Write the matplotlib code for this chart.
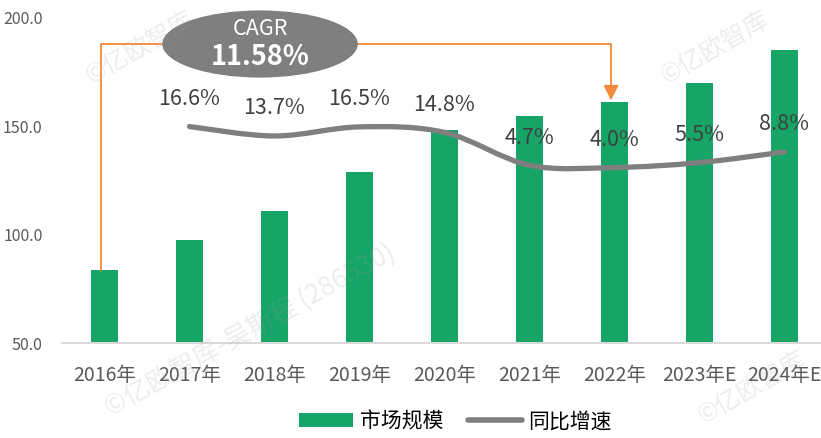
import numpy as np
import matplotlib.pyplot as plt
from matplotlib.path import Path
from matplotlib.patches import PathPatch, Patch, Ellipse
from matplotlib.lines import Line2D

plt.rcParams['font.family'] = ['Noto Sans CJK SC', 'DejaVu Sans']

# data
years = ['2016年', '2017年', '2018年', '2019年', '2020年', '2021年', '2022年', '2023年E', '2024年E']
market_size = [83.7, 97.5, 111.0, 129.0, 148.3, 155.0, 161.4, 170.0, 185.4]
growth_years = years[1:]
growth_pct = [16.6, 13.7, 16.5, 14.8, 4.7, 4.0, 5.5, 8.8]
cagr_text = '11.58%'

GREEN = '#16a566'
GREY = '#7f7f7f'
ORANGE = '#f5883a'

fig = plt.figure(figsize=(8.21, 4.38), dpi=100)
ax = fig.add_axes([62 / 821, 95 / 438, 759 / 821, 325 / 438])

x = np.arange(len(years))
ax.bar(x, market_size, width=0.31, color=GREEN, zorder=2)
ax.set_xlim(-0.5, len(years) - 0.57)
ax.set_ylim(50, 200)
ax.set_yticks([50, 100, 150, 200])
ax.set_yticklabels([f'{v:.1f}' for v in [50, 100, 150, 200]], fontsize=11.5, color='#595959')
ax.set_xticks(x)
ax.set_xticklabels(years, fontsize=14, color='#595959')
ax.tick_params(axis='x', length=0, pad=16)
ax.tick_params(axis='y', length=0, pad=14)
for s in ['top', 'right', 'left']:
    ax.spines[s].set_visible(False)
ax.spines['bottom'].set_color('#d9d9d9')
ax.spines['bottom'].set_linewidth(1.5)

# growth line on a hidden secondary axis, smoothed like an office chart
ax2 = ax.twinx()
ax2.set_ylim(-50, 50)
ax2.axis('off')
gx = x[1:].astype(float)
gy = np.array(growth_pct)
pts = np.column_stack([gx, gy])
verts = [pts[0]]
codes = [Path.MOVETO]
n = len(pts)
for i in range(n - 1):
    p0 = pts[i - 1] if i > 0 else pts[i]
    p1, p2 = pts[i], pts[i + 1]
    p3 = pts[i + 2] if i + 2 < n else pts[i + 1]
    verts += [p1 + (p2 - p0) / 6, p2 - (p3 - p1) / 6, p2]
    codes += [Path.CURVE4] * 3
ax2.add_patch(PathPatch(Path(verts, codes), facecolor='none', edgecolor=GREY,
                        lw=3.8, capstyle='round', zorder=3))
for xi, v in zip(gx, growth_pct):
    ax2.annotate(f'{v}%', (xi, v), xytext=(0, 12), textcoords='offset points',
                 ha='center', va='bottom', fontsize=15.5, color='#404040', zorder=4)

# CAGR bracket and bubble
top_y = 188
ax.plot([0 - 0.04, 0 - 0.04, 6 - 0.04, 6 - 0.04],
        [market_size[0], top_y, top_y, 166.5], color=ORANGE, lw=1.3, zorder=5)
ax.annotate('', xy=(6 - 0.04, market_size[6] + 0.6), xytext=(6 - 0.04, 167.5),
            arrowprops=dict(arrowstyle='-|>,head_width=0.45,head_length=0.9',
                            color=ORANGE, lw=1.3, shrinkA=0, shrinkB=0), zorder=5)
ax.add_patch(Ellipse((1.83, top_y), 2.3, 31, facecolor='#7f7f7f', edgecolor='none',
                     zorder=6, clip_on=False))
ax.text(1.83, top_y + 7, 'CAGR', ha='center', va='center', fontsize=15.5,
        color='white', zorder=7)
ax.text(1.83, top_y - 6, cagr_text, ha='center', va='center', fontsize=19.5,
        fontweight='bold', color='white', zorder=7)

# faint watermarks
wm = dict(color='#9a9a9a', alpha=0.18, ha='center', va='center', zorder=10)
fig.text(140 / 821, 1 - 48 / 438, '©亿欧智库', fontsize=18, rotation=30, **wm)
fig.text(715 / 821, 1 - 48 / 438, '©亿欧智库', fontsize=18, rotation=30, **wm)
fig.text(250 / 821, 1 - 330 / 438, '©亿欧智库-吴斯程 (286530)', fontsize=19, rotation=29, **wm)
fig.text(752 / 821, 1 - 388 / 438, '©亿欧智库', fontsize=18, rotation=30, **wm)

handles = [Patch(facecolor=GREEN, edgecolor='none'),
           Line2D([0], [0], color=GREY, lw=4, solid_capstyle='round')]
fig.legend(handles, ['市场规模', '同比增速'], loc='lower center', ncol=2,
           bbox_to_anchor=(0.555, -0.03), frameon=False, fontsize=15,
           handlelength=2.6, handletextpad=0.3, columnspacing=1.2)

fig.savefig('out.png', dpi=100)
